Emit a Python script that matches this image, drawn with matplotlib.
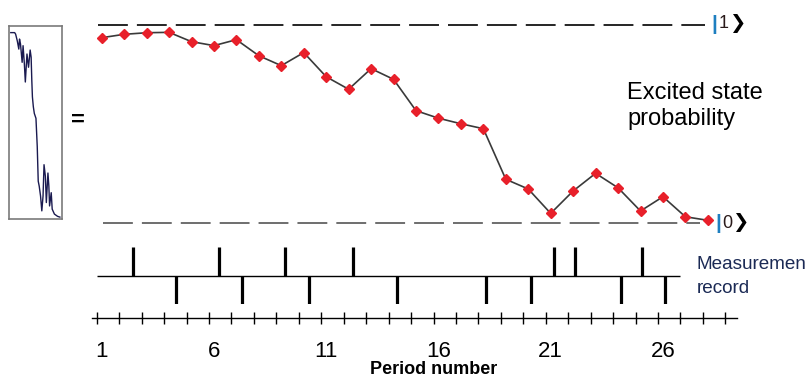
#!/usr/bin/env python3
"""Excited state probability per period with the measurement record below."""

import matplotlib
matplotlib.use("Agg")
import matplotlib.pyplot as plt

W, H = 805, 378

# probability trajectory, one value per period
periods = list(range(1, 29))
excited_prob = [0.936, 0.953, 0.961, 0.963, 0.916, 0.896, 0.926, 0.845, 0.795, 0.861,
                0.739, 0.676, 0.780, 0.726, 0.568, 0.530, 0.502, 0.477, 0.222, 0.173,
                0.050, 0.163, 0.252, 0.179, 0.062, 0.134, 0.033, 0.015]

# measurement clicks (period positions), above and below the record line
clicks_up = [2.41, 6.22, 9.15, 12.19, 21.16, 22.10, 25.08]
clicks_down = [4.30, 7.24, 10.22, 14.14, 18.12, 20.12, 24.13, 26.10]

tick_labels = [1, 6, 11, 16, 21, 26]
minor_ticks = [0.78 + k for k in range(29)]

# small inset trace (horizontal level 0..100, time going down 0..100)
inset_level = [1.9, 9.4, 11.3, 14.5, 17.5, 18.9, 20.8, 24.0, 25.8, 28.3, 30.2, 33.4, 36.4,
               39.6, 41.5, 42.8, 44.0, 45.8, 47.7, 50.9, 53.4, 55.3, 57.2, 59.8, 62.3,
               64.7, 66.6, 69.2, 71.1, 74.2, 76.0, 77.4, 80.6, 82.5, 86.8, 93.0, 97.5]
inset_time = [2.5, 2.5, 3.3, 6.8, 11.2, 5.9, 8.5, 18.2, 9.4, 19.0, 28.6, 13.8, 20.8,
              11.7, 15.5, 27.7, 36.5, 41.7, 45.2, 47.8, 62.7, 81.0, 83.6, 88.8, 96.7,
              88.8, 72.3, 78.4, 92.3, 76.7, 83.6, 94.1, 87.1, 95.8, 98.4, 99.6, 100.0]

# pixel layout: period 1 at x=101.7, 22.45 px per period
X0, DX = 101.7, 22.45
XLIM = (1 - X0 / DX, 1 + (W - X0) / DX)
DASH = (0, (21.5, 6.5))

plt.rcParams.update({
    "font.family": ["Liberation Sans", "DejaVu Sans"],
    "lines.scale_dashes": False,
})


def px_box(x0, y0, x1, y1):
    return [x0 / W, 1 - y1 / H, (x1 - x0) / W, (y1 - y0) / H]


def px_to_period(x):
    return (x - X0) / DX + 1


fig = plt.figure(figsize=(W / 100, H / 100), dpi=100)

# main probability panel
ax = fig.add_axes(px_box(0, 25, W, 223.3))
ax.set_xlim(*XLIM)
ax.set_ylim(0, 1)
ax.axis("off")
ax.hlines(1, px_to_period(98.3), px_to_period(705), colors="black", lw=1.2,
          linestyles=DASH, clip_on=False)
ax.hlines(0, px_to_period(103), px_to_period(700), colors="#555555", lw=1.2,
          linestyles=DASH, clip_on=False)
ax.plot(periods, excited_prob, color="#3a3a3a", lw=1.2, marker="D", ms=5,
        mfc="#e8202a", mec="#e8202a", clip_on=False, zorder=3)

# ket labels |1> and |0>
for yk, xs, digit in [(24, (714.5, 723.5, 737), "1"), (223, (718, 727, 740.5), "0")]:
    yf = 1 - yk / H
    fig.text(xs[0] / W, yf, "|", color="#1e7fc0", fontsize=15, fontweight="bold",
             ha="center", va="center")
    fig.text(xs[1] / W, yf, digit, color="#2a1a1a", fontsize=13,
             ha="center", va="center")
    fig.text(xs[2] / W, yf + 0.002, "\u276F", color="black", fontsize=14,
             ha="center", va="center", family=["DejaVu Sans"])

fig.text(627 / W, 1 - 99.3 / H, "Excited state", fontsize=17, va="baseline")
fig.text(627 / W, 1 - 125 / H, "probability", fontsize=17, va="baseline")

# measurement record
axr = fig.add_axes(px_box(0, 247.3, W, 304))
axr.set_xlim(*XLIM)
axr.set_ylim(-1, 1)
axr.axis("off")
axr.hlines(0, px_to_period(96.7), px_to_period(680), colors="black", lw=1.0)
axr.vlines(clicks_up, 0, 1, colors="black", lw=2.3)
axr.vlines(clicks_down, -1, 0, colors="black", lw=2.3)
fig.text(696.7 / W, 1 - 269.3 / H, "Measuremen", fontsize=13.6, color="#1b2a55",
         va="baseline")
fig.text(696.7 / W, 1 - 293.3 / H, "record", fontsize=13.6, color="#1b2a55",
         va="baseline")

# period axis
axt = fig.add_axes(px_box(0, 308.3, W, 318.3))
axt.set_xlim(*XLIM)
axt.set_yticks([])
axt.patch.set_visible(False)
for side in ["top", "left", "right"]:
    axt.spines[side].set_visible(False)
axt.spines["bottom"].set_bounds(px_to_period(91.7), px_to_period(737))
axt.spines["bottom"].set_linewidth(1.0)
axt.set_xticks(tick_labels)
axt.set_xticklabels([str(t) for t in tick_labels])
axt.set_xticks(minor_ticks, minor=True)
axt.tick_params(axis="x", which="major", length=0, pad=16.5, labelsize=16)
axt.tick_params(axis="x", which="minor", direction="inout", length=8, width=1.0)
fig.text(434 / W, 1 - 369 / H, "Period number", fontsize=13, fontweight="bold",
         ha="center", va="center")

# left inset trace and "=" sign
axi = fig.add_axes(px_box(9.3, 26, 61.7, 219))
axi.plot(inset_level, inset_time, color="#1a1a50", lw=1.0)
axi.set_xlim(-1, 101)
axi.set_ylim(101, -1)
axi.set_xticks([])
axi.set_yticks([])
for sp in axi.spines.values():
    sp.set_color("#7a7a7a")
    sp.set_linewidth(1.2)
fig.text(78 / W, 1 - 120.5 / H, "=", fontsize=17, fontweight="bold",
         ha="center", va="center")

fig.savefig("out.png", dpi=100)
